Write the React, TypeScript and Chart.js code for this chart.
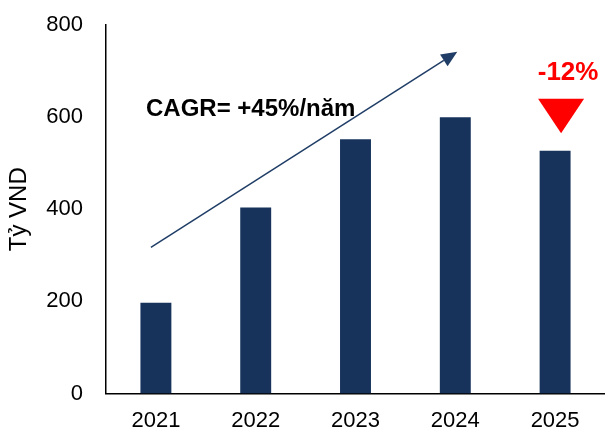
import React, { useEffect, useRef } from "react";
import { Chart, registerables } from "chart.js";

Chart.register(...registerables);

const categories = ["2021", "2022", "2023", "2024", "2025"];
const revenue = [197, 404, 552, 600, 527];
const yMin = 0;
const yMax = 800;
const yStep = 200;
const axisTitle = "Tỷ VND";
const cagrLabel = "CAGR= +45%/năm";
const changeLabel = "-12%";
// annotation anchors in data units: [category index, value]
const arrowStart = [-0.05, 317];
const arrowEnd = [3.02, 742];
const cagrAnchor = [0.95, 616];
const changeAnchor = [4.13, 696];
const triangleTop = [4.06, 640];
const triangleTip = [4.06, 565];

const FONT = "'Liberation Sans', Arial, sans-serif";
const BAR_COLOR = "#17335b";
const ARROW_COLOR = "#1f3d66";

const annotationPlugin = {
  id: "annotations",
  afterDatasetsDraw(chart: any) {
    const { ctx, scales } = chart;
    const x = scales.x;
    const y = scales.y;
    ctx.save();
    const x1 = x.getPixelForValue(arrowStart[0]);
    const y1 = y.getPixelForValue(arrowStart[1]);
    const x2 = x.getPixelForValue(arrowEnd[0]);
    const y2 = y.getPixelForValue(arrowEnd[1]);
    const ang = Math.atan2(y2 - y1, x2 - x1);
    const headLen = 16;
    const headHalf = 7;
    const bx = x2 - headLen * Math.cos(ang);
    const by = y2 - headLen * Math.sin(ang);
    ctx.strokeStyle = ARROW_COLOR;
    ctx.lineWidth = 1.5;
    ctx.beginPath();
    ctx.moveTo(x1, y1);
    ctx.lineTo(bx, by);
    ctx.stroke();
    ctx.fillStyle = ARROW_COLOR;
    ctx.beginPath();
    ctx.moveTo(x2, y2);
    ctx.lineTo(bx + headHalf * Math.sin(ang), by - headHalf * Math.cos(ang));
    ctx.lineTo(bx - headHalf * Math.sin(ang), by + headHalf * Math.cos(ang));
    ctx.closePath();
    ctx.fill();

    ctx.fillStyle = "#000";
    ctx.font = `bold 24px ${FONT}`;
    ctx.textAlign = "center";
    ctx.textBaseline = "middle";
    ctx.fillText(cagrLabel, x.getPixelForValue(cagrAnchor[0]), y.getPixelForValue(cagrAnchor[1]));

    ctx.fillStyle = "#ff0000";
    ctx.font = `bold 26px ${FONT}`;
    ctx.fillText(changeLabel, x.getPixelForValue(changeAnchor[0]), y.getPixelForValue(changeAnchor[1]));

    const tx = x.getPixelForValue(triangleTop[0]);
    const ty = y.getPixelForValue(triangleTop[1]);
    const px = x.getPixelForValue(triangleTip[0]);
    const py = y.getPixelForValue(triangleTip[1]);
    const half = 23;
    ctx.beginPath();
    ctx.moveTo(tx - half, ty);
    ctx.lineTo(tx + half, ty);
    ctx.lineTo(px, py);
    ctx.closePath();
    ctx.fill();
    ctx.restore();
  },
};

export default function App() {
  const ref = useRef<HTMLCanvasElement | null>(null);
  useEffect(() => {
    if (!ref.current) return;
    const chart = new Chart(ref.current, {
      type: "bar",
      data: {
        labels: categories,
        datasets: [
          {
            data: revenue,
            backgroundColor: BAR_COLOR,
            barPercentage: 0.31,
            categoryPercentage: 1,
          },
        ],
      },
      options: {
        animation: false,
        responsive: false,
        maintainAspectRatio: false,
        layout: { padding: { top: 25, left: 0, right: 0, bottom: 0 } },
        plugins: { legend: { display: false }, tooltip: { enabled: false } },
        scales: {
          x: {
            grid: { display: false, drawTicks: false },
            border: { display: true, color: "#000", width: 1.5 },
            ticks: { color: "#000", font: { family: FONT, size: 22 }, padding: 14, maxRotation: 0 },
            afterFit: (s: any) => {
              s.height = 38.5;
            },
          },
          y: {
            min: yMin,
            max: yMax,
            grid: { display: false, drawTicks: true, tickLength: 23 },
            border: { display: true, color: "#000", width: 1.5 },
            ticks: { stepSize: yStep, color: "#000", font: { family: FONT, size: 22 }, padding: 0 },
            title: {
              display: true,
              text: axisTitle,
              color: "#000",
              font: { family: FONT, size: 24 },
              padding: { top: 5, bottom: 0 },
            },
            afterFit: (s: any) => {
              s.width = 106;
            },
          },
        },
      },
      plugins: [annotationPlugin],
    });
    return () => chart.destroy();
  }, []);
  return (
    <div style={{ position: "absolute", left: 0, top: 0, width: 605, height: 432 }}>
      <canvas ref={ref} width={605} height={432} />
    </div>
  );
}
